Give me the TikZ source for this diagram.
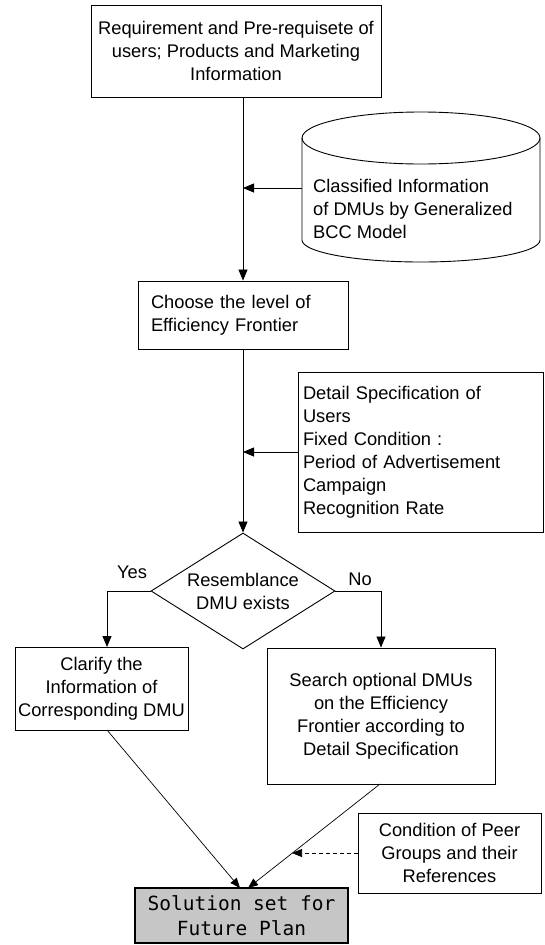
\documentclass[tikz,border=0pt]{standalone}
\usepackage{fontspec}
\setmainfont{Liberation Sans}
\newfontfamily\solfont{DejaVu Sans Mono}
\usetikzlibrary{arrows.meta,shapes.geometric}
\definecolor{solgray}{RGB}{198,198,198}
\begin{document}
\begin{tikzpicture}[x=1pt,y=-1pt,
  box/.style={draw,line width=0.9pt,inner sep=0pt,font=\fontsize{18.3}{23}\selectfont},
  txt/.style={inner sep=0pt,font=\fontsize{18.3}{23}\selectfont},
  arr/.style={line width=0.8pt,-{Triangle[length=11pt,width=9pt]}},
  thinarr/.style={line width=0.7pt,-{Triangle[length=10pt,width=8pt]}},
]
\useasboundingbox (0,0) rectangle (545,945);
\fill[white] (0,0) rectangle (545,945);

% top box
\node[box,minimum width=290pt,minimum height=92pt,align=center] (req) at (236,51)
  {Requirement and Pre-requisete of\\users; Products and Marketing\\Information};

% cylinder
\draw[line width=0.9pt] (421,138) ellipse [x radius=119pt, y radius=26pt];
\draw[line width=0.9pt] (302,138) -- (302,240)
  arc[start angle=180,end angle=360,x radius=119pt,y radius=22pt] -- (540,138);
\node[txt,align=left,anchor=west] (cyltext) at (313,209)
  {Classified Information\\of DMUs by Generalized\\BCC Model};
\coordinate (cylin) at (302,188);

% choose box
\node[box,minimum width=210pt,minimum height=68pt,align=left,text width=184pt] (choose) at (243,315)
  {Choose the level of\\Efficiency Frontier};

% detail box
\node[box,minimum width=245pt,minimum height=160pt,align=left,text width=235pt] (detail) at (420.5,452)
  {Detail Specification of\\Users\\Fixed Condition :\\Period of Advertisement\\Campaign\\Recognition Rate};

% decision
\node[draw,line width=0.9pt,shape=diamond,aspect=1.59,minimum width=184pt,minimum height=116pt,
  inner sep=0pt,align=center,font=\fontsize{18.3}{23}\selectfont] (dec) at (243,591)
  {Resemblance\\DMU exists};
\node[txt] (yes) at (132,572) {Yes};
\node[txt] (no) at (360,579) {No};

% clarify box
\node[box,minimum width=173pt,minimum height=83pt,align=center] (clar) at (101.5,688.5)
  {Clarify the\\Information of\\Corresponding DMU};
\coordinate (yesend) at (107,647);

% search box
\node[box,minimum width=228pt,minimum height=136pt,align=center] (search) at (381,716)
  {Search optional DMUs\\on the Efficiency\\Frontier according to\\Detail Specification};

% condition box
\node[box,minimum width=183pt,minimum height=80pt,align=center] (cond) at (449.5,853)
  {Condition of Peer\\Groups and their\\References};

% solution box
\node[draw,line width=1.6pt,fill=solgray,minimum width=213pt,minimum height=55pt,inner sep=0pt,
  align=center,font=\solfont\fontsize{19.5}{25}\selectfont] (sol) at (241.5,915.5)
  {Solution set for\\Future Plan};

\coordinate (clarout) at (107,730);
\coordinate (searchout) at (380,784);
\coordinate (solL) at (240,888);
\coordinate (solR) at (248,888);
\coordinate (dashend) at (292,853);

% connectors
\draw[arr] (req.south -| choose.north) -- (choose.north);
\draw[arr] (cylin) -- (cylin -| choose.north);
\draw[arr] (choose.south) -- (dec.north);
\draw[arr] (detail.west) -- (detail.west -| choose.south);
\draw[arr] (dec.west) -| (yesend);
\draw[arr] (dec.east) -| (search.north);
\draw[thinarr] (clarout) -- (solL);
\draw[thinarr] (searchout) -- (solR);
\draw[thinarr,dash pattern=on 4pt off 3pt] (cond.west) -- (dashend);
\end{tikzpicture}
\end{document}
